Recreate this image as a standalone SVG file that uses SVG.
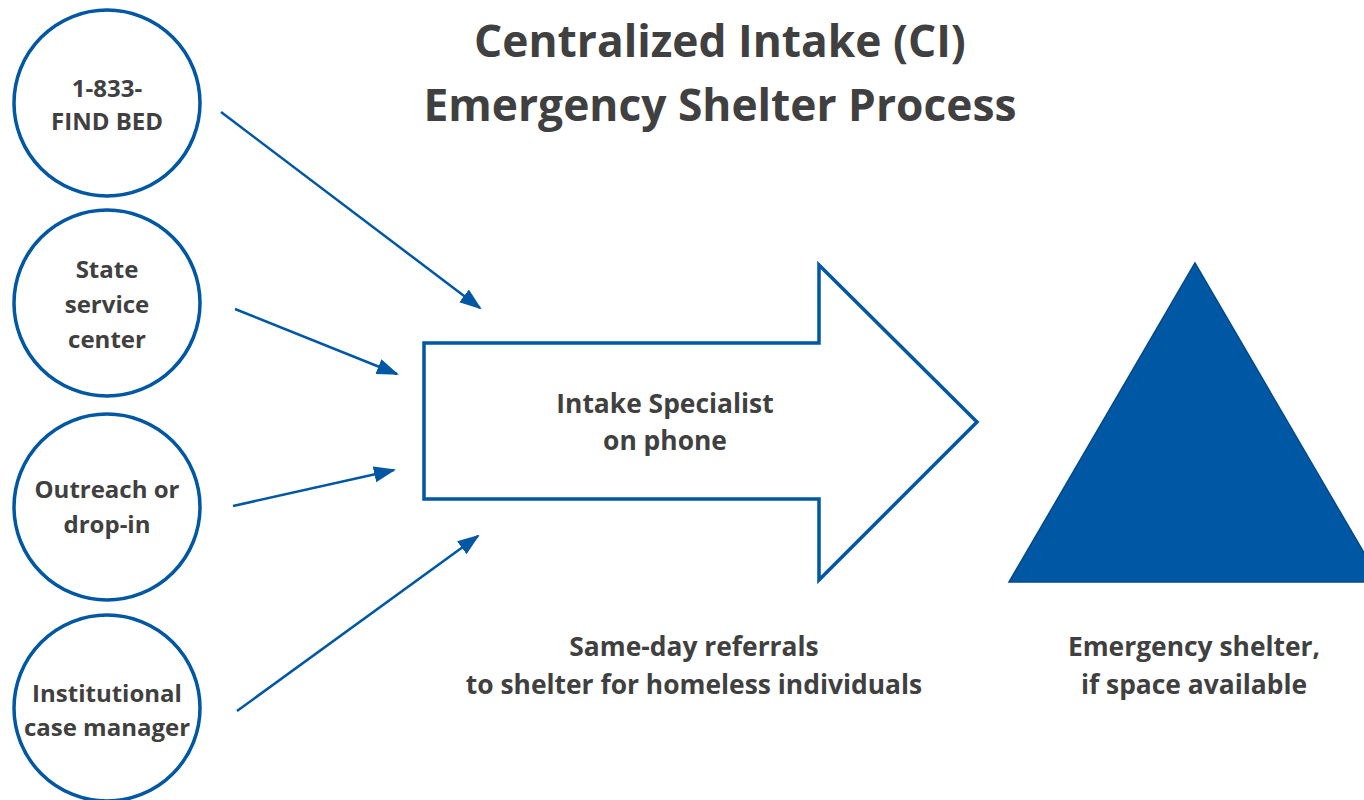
<svg xmlns="http://www.w3.org/2000/svg" width="1364" height="800" viewBox="0 0 1364 800">
<defs>
<style>
.t{font-family:"Open Sans","Liberation Sans",sans-serif;font-weight:bold;fill:#404040;text-anchor:middle}
.title{font-size:44.3px}
.lbl{font-size:26.4px}
.cl{font-size:24px}
.node{fill:#fff;stroke:#0057A3;stroke-width:3.5}
.conn{stroke:#0057A3;stroke-width:2.5;fill:none}
</style>
<marker id="ah" markerUnits="userSpaceOnUse" markerWidth="22" markerHeight="18" refX="20" refY="8" orient="auto" viewBox="0 0 22 16">
<path d="M0,0 L22,8 L0,16 Z" fill="#0057A3"/>
</marker>
</defs>
<rect width="1364" height="800" fill="#fff"/>
<g id="title">
<text class="t title" x="720" y="57">Centralized Intake (CI)</text>
<text class="t title" x="720" y="121">Emergency Shelter Process</text>
</g>
<g id="n1">
<circle class="node" cx="107" cy="103" r="93"/>
<text class="t cl" x="107" y="97">1-833-</text>
<text class="t cl" x="107" y="130">FIND BED</text>
</g>
<g id="n2">
<circle class="node" cx="107" cy="303" r="93"/>
<text class="t cl" x="107" y="278">State</text>
<text class="t cl" x="107" y="313">service</text>
<text class="t cl" x="107" y="348">center</text>
</g>
<g id="n3">
<circle class="node" cx="107" cy="507" r="93"/>
<text class="t cl" x="107" y="498">Outreach or</text>
<text class="t cl" x="107" y="533">drop-in</text>
</g>
<g id="n4">
<circle class="node" cx="107" cy="708" r="93"/>
<text class="t cl" x="107" y="702">Institutional</text>
<text class="t cl" x="107" y="736">case manager</text>
</g>
<g id="intake">
<polygon class="node" points="424,343 819,343 819,265 977,422 819,580 819,499 424,499"/>
<text class="t lbl" x="665" y="413">Intake Specialist</text>
<text class="t lbl" x="665" y="450">on phone</text>
</g>
<g id="referrals">
<text class="t lbl" x="694" y="656">Same-day referrals</text>
<text class="t lbl" x="694" y="694">to shelter for homeless individuals</text>
</g>
<g id="shelter">
<polygon points="1195,263 1009,582 1381,582" fill="#0057A3" stroke="#004A8C" stroke-width="1.5"/>
<text class="t lbl" x="1194" y="656">Emergency shelter,</text>
<text class="t lbl" x="1194" y="694">if space available</text>
</g>
<g id="connectors">
<line class="conn" x1="221" y1="112" x2="480" y2="308" marker-end="url(#ah)"/>
<line class="conn" x1="235" y1="309" x2="397" y2="374" marker-end="url(#ah)"/>
<line class="conn" x1="233" y1="506" x2="394" y2="470" marker-end="url(#ah)"/>
<line class="conn" x1="237" y1="711" x2="478" y2="536" marker-end="url(#ah)"/>
</g>
</svg>
